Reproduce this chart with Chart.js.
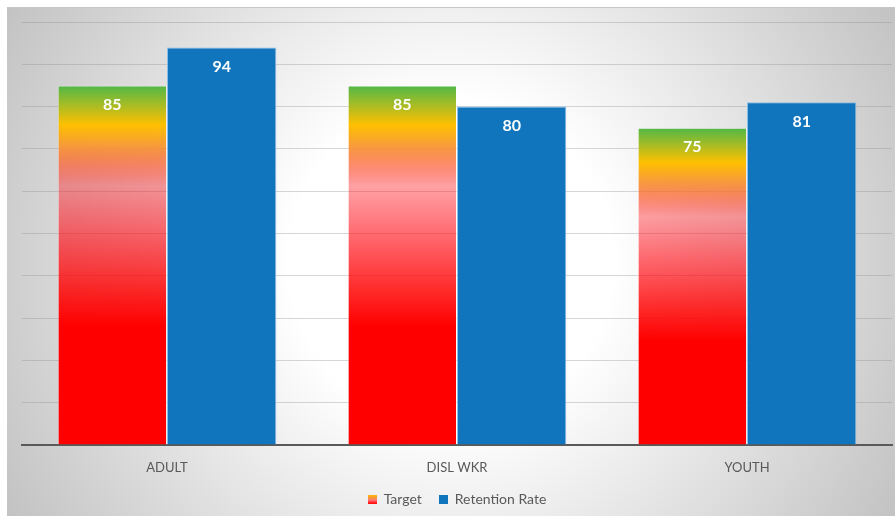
<!DOCTYPE html>
<html>
<head>
<meta charset="utf-8">
<script src="https://cdn.jsdelivr.net/npm/chart.js@4/dist/chart.umd.min.js"></script>
<style>
  html, body { margin: 0; padding: 0; background: #fff; }
  #wrap { width: 895px; height: 516px; }
</style>
</head>
<body>
<div id="wrap"><canvas id="chart" width="895" height="516"></canvas></div>
<script>
// Program groups and their rates (percent)
const categories = ['ADULT', 'DISL WKR', 'YOUTH'];
const targetValues = [85, 85, 75];
const retentionValues = [94, 80, 81];
const seriesNames = ['Target', 'Retention Rate'];
const yTicks = [0, 10, 20, 30, 40, 50, 60, 70, 80, 90, 100];

const FONT = 'Lato, "Open Sans", "DejaVu Sans", sans-serif';
const BLUE = '#1075bd';

// Colour ramp of the target bars, top (0) to base (1)
const targetStops = [
  [0.00, 'rgba(80,184,72,1)'],
  [0.11, 'rgba(255,192,0,1)'],
  [0.17, 'rgba(247,150,50,0.95)'],
  [0.28, 'rgba(255,20,30,0.40)'],
  [0.42, 'rgba(255,10,20,0.62)'],
  [0.56, 'rgba(255,0,0,0.82)'],
  [0.67, 'rgba(255,0,0,1)'],
  [1.00, 'rgba(255,0,0,1)']
];

function targetFill(ctx) {
  const chart = ctx.chart;
  if (!chart.chartArea || ctx.type !== 'data') return '#ff0000';
  const y = chart.scales.y;
  const top = y.getPixelForValue(ctx.raw);
  const base = y.getPixelForValue(0);
  const g = chart.ctx.createLinearGradient(0, top, 0, base);
  targetStops.forEach(([p, c]) => g.addColorStop(p, c));
  return g;
}

// Small swatches for the legend
function swatch(kind) {
  const c = document.createElement('canvas');
  c.width = 9; c.height = 9;
  const x = c.getContext('2d');
  if (kind === 'target') {
    const g = x.createLinearGradient(0, 0, 0, 9);
    g.addColorStop(0, '#ffc000');
    g.addColorStop(0.35, '#f79632');
    g.addColorStop(0.6, '#ff8080');
    g.addColorStop(1, '#ff0000');
    x.fillStyle = g;
  } else {
    x.fillStyle = BLUE;
  }
  x.fillRect(0, 0, 9, 9);
  return c;
}
const swatches = [swatch('target'), swatch('blue')];

// Soft radial backdrop behind the plot
const backdrop = {
  id: 'backdrop',
  beforeDraw(chart) {
    const c = chart.ctx;
    const W = chart.width, H = chart.height;
    c.save();
    c.fillStyle = '#ffffff';
    c.fillRect(0, 0, W, H);
    const g = c.createRadialGradient(451, 261, 0, 451, 261, 520);
    g.addColorStop(0, '#ffffff');
    g.addColorStop(0.31, '#ffffff');
    g.addColorStop(1, 'rgb(193,193,193)');
    c.fillStyle = g;
    c.fillRect(7, 7, W - 7, H - 7);
    c.strokeStyle = '#c6c6c6';
    c.lineWidth = 1;
    c.beginPath();
    c.moveTo(7, 7.5);
    c.lineTo(W, 7.5);
    c.stroke();
    c.restore();
  }
};

// Value labels inside the top of each bar
const valueLabels = {
  id: 'valueLabels',
  afterDatasetsDraw(chart) {
    const c = chart.ctx;
    c.save();
    c.font = 'bold 16px ' + FONT;
    c.fillStyle = '#ffffff';
    c.textAlign = 'center';
    c.textBaseline = 'middle';
    chart.data.datasets.forEach((ds, di) => {
      chart.getDatasetMeta(di).data.forEach((bar, i) => {
        c.fillText(String(ds.data[i]), bar.x, bar.y + 19);
      });
    });
    c.restore();
  }
};

new Chart(document.getElementById('chart'), {
  type: 'bar',
  data: {
    labels: categories,
    datasets: [
      {
        label: seriesNames[0],
        data: targetValues,
        backgroundColor: targetFill,
        borderColor: 'rgba(255,255,255,0.35)',
        borderWidth: 1,
        categoryPercentage: 0.754,
        barPercentage: 1.0
      },
      {
        label: seriesNames[1],
        data: retentionValues,
        backgroundColor: BLUE,
        borderColor: 'rgba(130,185,230,0.9)',
        borderWidth: 1,
        categoryPercentage: 0.754,
        barPercentage: 1.0
      }
    ]
  },
  options: {
    responsive: false,
    animation: false,
    layout: { padding: { left: 22, right: 3, top: 22, bottom: 0 } },
    scales: {
      x: {
        afterFit(scale) { scale.height = 30; },
        grid: { display: false, drawTicks: false },
        border: { display: true, color: '#595959', width: 2 },
        ticks: { color: '#595959', font: { family: FONT, size: 13 }, padding: 15 }
      },
      y: {
        min: 0,
        max: 100,
        afterBuildTicks(scale) { scale.ticks = yTicks.map(v => ({ value: v })); },
        grid: { color: 'rgba(140,140,140,0.35)', lineWidth: 1, drawTicks: false },
        border: { display: false },
        ticks: { display: false }
      }
    },
    plugins: {
      tooltip: { enabled: false },
      legend: {
        position: 'bottom',
        labels: {
          color: '#595959',
          font: { family: FONT, size: 14 },
          usePointStyle: true,
          pointStyleWidth: 9,
          boxHeight: 9,
          padding: 17,
          generateLabels(chart) {
            return chart.data.datasets.map((ds, i) => ({
              text: ds.label,
              pointStyle: swatches[i],
              fillStyle: 'transparent',
              strokeStyle: 'transparent',
              lineWidth: 0,
              fontColor: '#595959',
              datasetIndex: i,
              hidden: false
            }));
          }
        }
      }
    }
  },
  plugins: [backdrop, valueLabels]
});
</script>
</body>
</html>
